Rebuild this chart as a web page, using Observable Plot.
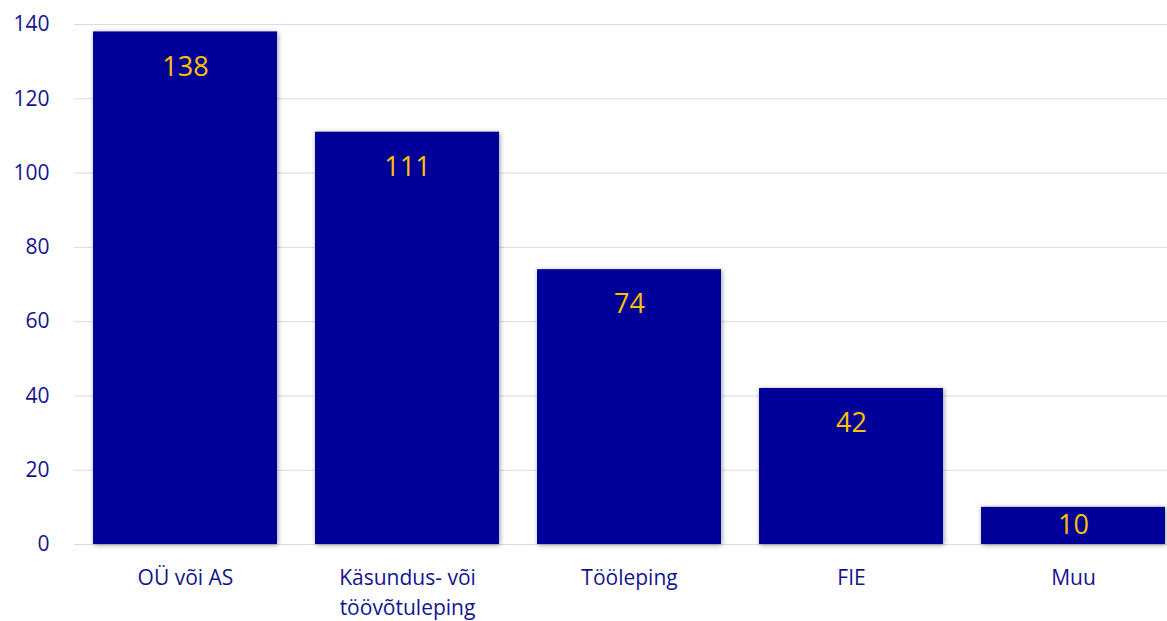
<!DOCTYPE html>
<html>
<head>
<meta charset="utf-8">
<script src="https://cdn.jsdelivr.net/npm/d3@7"></script>
<script src="https://cdn.jsdelivr.net/npm/@observablehq/plot@0.6"></script>
<style>
  html, body { margin: 0; padding: 0; background: #fff; overflow: hidden; }
  #chart svg { overflow: hidden; }
</style>
</head>
<body>
<div id="chart"></div>
<script>
const categories = ["OÜ või AS", "Käsundus- või\ntöövõtuleping", "Tööleping", "FIE", "Muu"];
const values = [138, 111, 74, 42, 10];
const yTicks = [0, 20, 40, 60, 80, 100, 120, 140];

const data = categories.map((c, i) => ({category: c, value: values[i]}));

const textColor = "#14148f";
const barColor = "#000099";
const labelColor = "#FFC000";
const font = "'Open Sans', 'Noto Sans', sans-serif";

const chart = Plot.plot({
  width: 1167,
  height: 621,
  marginLeft: 74,
  marginRight: -17,
  marginTop: 24,
  marginBottom: 77,
  style: {fontFamily: font, background: "#fff", overflow: "hidden"},
  x: {domain: categories, paddingInner: 0.171, paddingOuter: 0.0855, label: null},
  y: {domain: [0, 140], label: null},
  marks: [
    Plot.gridY(yTicks, {stroke: "#d9d9ea", strokeOpacity: 1, strokeWidth: 1}),
    Plot.axisY(yTicks, {tickSize: 0, tickPadding: 25, fontSize: 21, fill: textColor, label: null}),
    Plot.axisX({tickSize: 0, tickPadding: 20, fontSize: 21, fill: textColor, lineHeight: 1.4, label: null}),
    Plot.barY(data, {x: "category", y: "value", fill: barColor, className: "bars"}),
    Plot.text(data.filter(d => d.value >= 20), {x: "category", y: "value", text: d => String(d.value), dy: 35, fill: labelColor, fontSize: 27, fontFamily: font}),
    Plot.text(data.filter(d => d.value < 20), {x: "category", y: d => d.value / 2, text: d => String(d.value), dy: -1, fill: labelColor, fontSize: 27, fontFamily: font})
  ]
});

const g = chart.querySelector("g.bars") || chart.querySelector("[aria-label='bar']");
if (g) g.style.filter = "drop-shadow(1px 1px 2.5px rgba(0,0,0,0.4))";

document.getElementById("chart").appendChild(chart);
</script>
</body>
</html>
